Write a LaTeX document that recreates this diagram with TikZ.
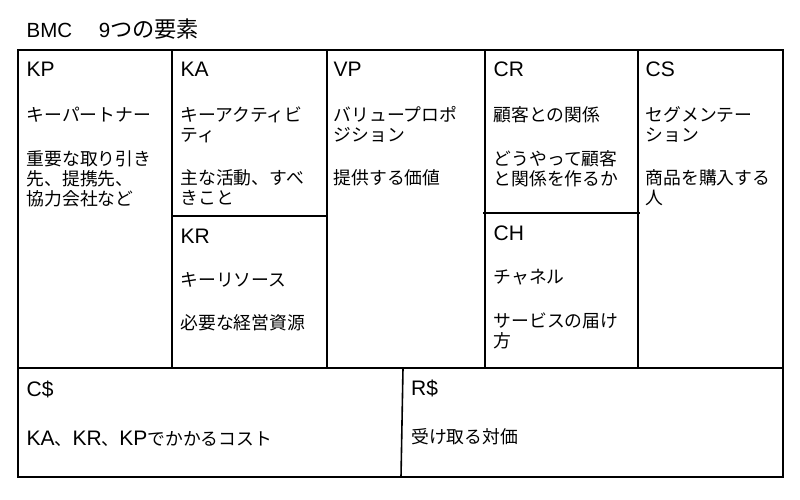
\documentclass[tikz,border=0pt]{standalone}
\usepackage{fontspec}
\setmainfont{Liberation Sans}
\newfontfamily\jpf{Noto Sans CJK JP}
\tikzset{
  frame/.style={line width=1.6pt, line join=miter},
  ttl/.style={anchor=base west, inner sep=0pt, font=\fontsize{21}{24}\selectfont},
  bodytxt/.style={anchor=base west, inner sep=0pt, align=left, font=\jpf\fontsize{17.8}{20}\selectfont},
}
\begin{document}
\begin{tikzpicture}[x=1pt,y=-1pt]
\useasboundingbox (0,0) rectangle (800,500);
\fill[white] (0,0) rectangle (800,500);
% frame
\draw[frame] (18,50) rectangle (783,477);
\draw[frame] (172,50) -- (172,368);
\draw[frame] (327,50) -- (327,368);
\draw[frame] (485,50) -- (485,368);
\draw[frame] (638,50) -- (638,368);
\draw[frame] (172,216) -- (327,216);
\draw[frame] (483,213) -- (640,213);
\draw[frame] (18,368) -- (783,368);
\draw[frame] (403,368) -- (401,477);
% title
\node[anchor=base west, inner sep=0pt] (title) at (26.5,37.5)
  {\fontsize{20.5}{24}\selectfont BMC{\jpf\fontsize{21}{24}\selectfont 　}\kern5.5pt 9{\jpf\fontsize{22.2}{24}\selectfont つの要素}};
% (multi-line nodes: base anchor = baseline of the last line)
% KP
\node[ttl] (kpT) at (26.5,77) {KP};
\node[bodytxt] (kp1) at (26.5,121.5) {キーパートナー};
\node[bodytxt] (kp2) at (26.5,205) {重要な取り引き\\先、提携先、\\協力会社など};
% KA
\node[ttl] (kaT) at (180.3,77) {KA};
\node[bodytxt] (ka1) at (180.3,141.5) {キーアクティビ\\ティ};
\node[bodytxt] (ka2) at (180.3,204.5) {主な活動、すべ\\きこと};
% KR
\node[ttl] (krT) at (180.3,243) {KR};
\node[bodytxt] (kr1) at (180.3,286.5) {キーリソース};
\node[bodytxt] (kr2) at (180.3,329) {必要な経営資源};
% VP
\node[ttl] (vpT) at (333.5,77) {VP};
\node[bodytxt] (vp1) at (333.5,141.5) {バリュープロポ\\ジション};
\node[bodytxt] (vp2) at (333.5,184.5) {提供する価値};
% CR
\node[ttl] (crT) at (493.5,77) {CR};
\node[bodytxt] (cr1) at (493.5,121.5) {顧客との関係};
\node[bodytxt] (cr2) at (493.5,185.5) {どうやって顧客\\と関係を作るか};
% CH
\node[ttl] (chT) at (493.5,240) {CH};
\node[bodytxt] (ch1) at (493.5,283.5) {チャネル};
\node[bodytxt] (ch2) at (493.5,347) {サービスの届け\\方};
% CS
\node[ttl] (csT) at (645.5,77) {CS};
\node[bodytxt] (cs1) at (645.5,141.5) {セグメンテー\\ション};
\node[bodytxt] (cs2) at (645.5,204.5) {商品を購入する\\人};
% C$
\node[ttl] (cdT) at (26.5,396) {C\$};
\node[anchor=base west, inner sep=0pt] (cd1) at (26.5,445)
  {\fontsize{21}{24}\selectfont KA{\jpf\fontsize{17.8}{20}\selectfont 、}KR{\jpf\fontsize{17.8}{20}\selectfont 、}KP{\jpf\fontsize{17.8}{20}\selectfont でかかるコスト}};
% R$
\node[ttl] (rdT) at (411,395) {R\$};
\node[bodytxt] (rd1) at (411,443) {受け取る対価};
\end{tikzpicture}
\end{document}
